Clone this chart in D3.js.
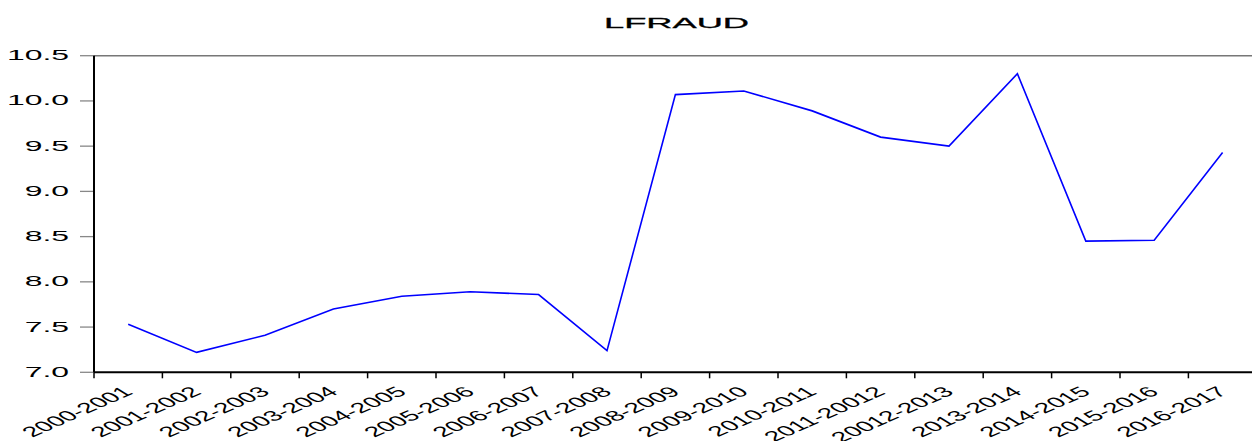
<!DOCTYPE html>
<html>
<head>
<meta charset="utf-8">
<script src="https://cdn.jsdelivr.net/npm/d3@7"></script>
<style>
  body { margin: 0; background: #fff; }
  text { font-family: "Liberation Sans", Arial, sans-serif; fill: #000; }
</style>
</head>
<body>
<div id="chart"></div>
<script>
// data
const periods = ["2000-2001", "2001-2002", "2002-2003", "2003-2004", "2004-2005",
  "2005-2006", "2006-2007", "2007-2008", "2008-2009", "2009-2010", "2010-2011",
  "2011-20012", "20012-2013", "2013-2014", "2014-2015", "2015-2016", "2016-2017"];
const lfraud = [7.53, 7.22, 7.41, 7.70, 7.84, 7.89, 7.86, 7.24, 10.07, 10.11,
  9.89, 9.60, 9.50, 10.30, 8.45, 8.46, 9.43];
const yTicks = [7.0, 7.5, 8.0, 8.5, 9.0, 9.5, 10.0, 10.5];

const width = 1252, height = 441;
const plotLeft = 94, plotTop = 55.7, plotBottom = 372.3, band = 68.4;
const stretch = 2.2;     // the source image is stretched sideways
const labStretch = 1.92; // tick labels: rotated then widened

const svg = d3.select("#chart")
  .append("svg")
    .attr("width", width)
    .attr("height", height);

const x = d3.scaleBand()
  .domain(periods)
  .range([plotLeft, plotLeft + band * periods.length])
  .padding(0);

const y = d3.scaleLinear()
  .domain([7, 10.5])
  .range([plotBottom, plotTop]);

// title
svg.append("text")
  .attr("x", 676.5)
  .attr("y", 28)
  .attr("text-anchor", "middle")
  .attr("font-size", 15.5)
  .attr("stroke", "#000")
  .attr("stroke-width", 0.3)
  .attr("textLength", 145)
  .attr("lengthAdjust", "spacingAndGlyphs")
  .text("LFRAUD");

// frame top (gray)
svg.append("line")
  .attr("x1", plotLeft).attr("x2", width)
  .attr("y1", plotTop).attr("y2", plotTop)
  .attr("stroke", "#777").attr("stroke-width", 1.5);

// y ticks + labels
svg.selectAll(".ytick")
  .data(yTicks)
  .join("line")
    .attr("class", "ytick")
    .attr("x1", 80).attr("x2", plotLeft)
    .attr("y1", d => y(d)).attr("y2", d => y(d))
    .attr("stroke", "#888").attr("stroke-width", 1.3);

svg.selectAll(".ylab")
  .data(yTicks)
  .join("g")
    .attr("class", "ylab")
    .attr("transform", d => `translate(69,${y(d) + 4.5}) scale(${stretch},1)`)
  .append("text")
    .attr("text-anchor", "end")
    .attr("font-size", 14.5)
    .text(d => d.toFixed(1));

// x ticks at band edges
svg.selectAll(".xtick")
  .data(periods)
  .join("line")
    .attr("class", "xtick")
    .attr("x1", d => x(d)).attr("x2", d => x(d))
    .attr("y1", plotBottom).attr("y2", plotBottom + 6)
    .attr("stroke", "#000").attr("stroke-width", 1.5);

svg.selectAll(".xlab")
  .data(periods)
  .join("g")
    .attr("class", "xlab")
    .attr("transform", d => `translate(${x(d) + band / 2 + 6},${plotBottom + 21}) scale(${labStretch},1) rotate(-40)`)
  .append("text")
    .attr("text-anchor", "end")
    .attr("font-size", 14.5)
    .text(d => d);

// axes lines
svg.append("line")
  .attr("x1", plotLeft).attr("x2", plotLeft)
  .attr("y1", plotTop).attr("y2", plotBottom)
  .attr("stroke", "#000").attr("stroke-width", 2);
svg.append("line")
  .attr("x1", plotLeft).attr("x2", width)
  .attr("y1", plotBottom).attr("y2", plotBottom)
  .attr("stroke", "#000").attr("stroke-width", 2);

// series
const line = d3.line()
  .x((d, i) => x(periods[i]) + band / 2)
  .y(d => y(d));

svg.append("path")
  .datum(lfraud)
  .attr("d", line)
  .attr("fill", "none")
  .attr("stroke", "#0000ff")
  .attr("stroke-width", 1.6);
</script>
</body>
</html>
